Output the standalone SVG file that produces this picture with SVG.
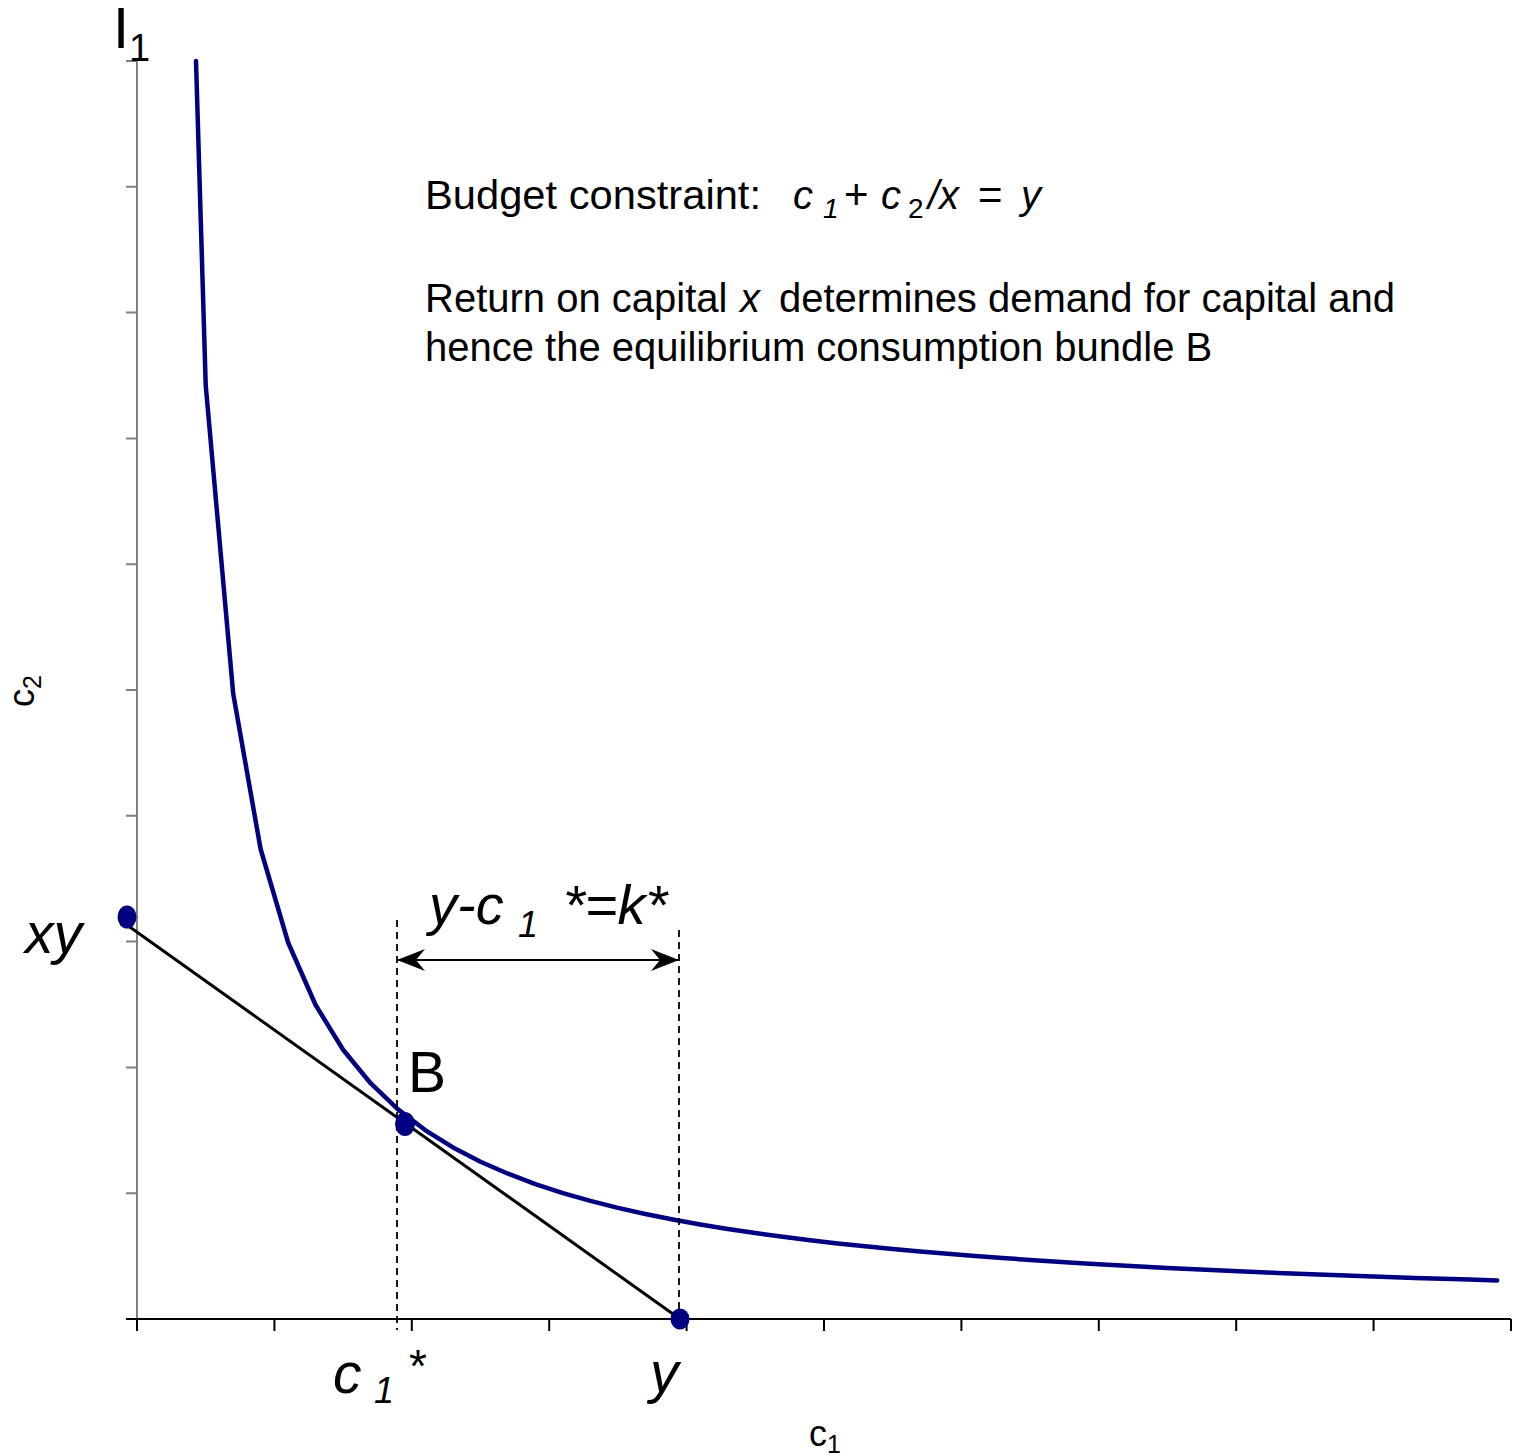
<svg xmlns="http://www.w3.org/2000/svg" width="1527" height="1456" viewBox="0 0 1527 1456">
<style>
text{font-family:"Liberation Sans",Arial,sans-serif;fill:#000}
.it{font-style:italic}
.big{font-size:57px}
.txt{font-size:40px}
.ax{stroke:#000;stroke-width:2;fill:none}
.gax{stroke:#808080;stroke-width:2;fill:none}
.dash{stroke:#000;stroke-width:1.8;stroke-dasharray:7,5;fill:none}
.dot{fill:#000080}
</style>
<defs>
<marker id="ah" viewBox="0 0 28 22" refX="27" refY="11" markerWidth="28" markerHeight="22" markerUnits="userSpaceOnUse" orient="auto-start-reverse">
<path d="M28,11 L0,0 L9,11 L0,22 Z" fill="#000"/>
</marker>
</defs>
<rect width="1527" height="1456" fill="#fff"/>
<g id="axes">
<path class="gax" d="M137,61 V1319"/>
<path class="gax" d="M126,61H137M126,186.8H137M126,312.6H137M126,438.4H137M126,564.2H137M126,690H137M126,815.8H137M126,941.6H137M126,1067.4H137M126,1193.2H137"/>
<path class="ax" d="M126,1319 H1511"/>
<path class="ax" d="M137,1319V1331M274.4,1319V1331M411.8,1319V1331M549.2,1319V1331M686.6,1319V1331M824,1319V1331M961.4,1319V1331M1098.8,1319V1331M1236.2,1319V1331M1373.6,1319V1331M1511,1319V1331"/>
<text x="809" y="1446" style="font-size:36px">c<tspan dy="7" style="font-size:25px">1</tspan></text>
<text transform="translate(34,707) rotate(-90)" style="font-size:36px">c<tspan dy="7" style="font-size:25px">2</tspan></text>
</g>
<g id="connectors">
<path id="indifference-curve" d="M196,61 L205.7,385.1 L233.2,693.7 L260.6,849 L288.1,942.5 L315.6,1005 L343.1,1049.7 L370.6,1083.2 L398,1109.4 L425.5,1130.3 L453,1147.4 L480.5,1161.7 L508,1173.7 L535.4,1184.1 L562.9,1193.1 L590.4,1200.9 L617.9,1207.9 L645.4,1214 L672.8,1219.5 L700.3,1224.5 L727.8,1229 L755.3,1233.1 L782.8,1236.8 L810.2,1240.2 L837.7,1243.4 L865.2,1246.3 L892.7,1249 L920.2,1251.5 L947.6,1253.8 L975.1,1256 L1002.6,1258 L1030.1,1259.9 L1057.6,1261.7 L1085,1263.4 L1112.5,1265 L1140,1266.5 L1167.5,1267.9 L1195,1269.2 L1222.4,1270.5 L1249.9,1271.7 L1277.4,1272.9 L1304.9,1274 L1332.4,1275 L1359.8,1276 L1387.3,1277 L1414.8,1277.9 L1442.3,1278.8 L1469.8,1279.6 L1497.2,1280.4" fill="none" stroke="#000080" stroke-width="4.5" stroke-linejoin="round" stroke-linecap="round"/>
<path id="budget-line" d="M127,925 L680,1319" stroke="#000" stroke-width="3" fill="none"/>
<path class="dash" d="M397,920 V1330"/>
<path class="dash" d="M679,930 V1320"/>
<path d="M398,960 H678" stroke="#000" stroke-width="2" fill="none" marker-start="url(#ah)" marker-end="url(#ah)"/>
</g>
<g id="point-xy">
<ellipse class="dot" cx="127" cy="917" rx="9.5" ry="11.5"/>
<text class="big it" x="25" y="953">xy</text>
</g>
<g id="point-B">
<ellipse class="dot" cx="405" cy="1124" rx="10" ry="12"/>
<text class="big" x="408" y="1092">B</text>
</g>
<g id="point-y">
<ellipse class="dot" cx="680" cy="1319" rx="9.5" ry="10.5"/>
<text class="big it" x="650" y="1392">y</text>
</g>
<g id="label-I1">
<text x="113" y="48" style="font-size:58px">I<tspan x="129" y="61" style="font-size:38px">1</tspan></text>
</g>
<g id="label-c1star">
<text class="big it" x="333" y="1393">c<tspan x="374" y="1403" style="font-size:36px">1</tspan><tspan x="409" y="1382" style="font-style:normal;font-size:46px">*</tspan></text>
</g>
<g id="label-k">
<text class="it" style="font-size:56px" x="429" y="924">y-c<tspan x="518" y="937" style="font-size:36px">1</tspan><tspan x="563" y="924">*=k*</tspan></text>
</g>
<g id="text-block">
<text class="txt" x="425" y="209"><tspan textLength="336" lengthAdjust="spacingAndGlyphs">Budget constraint:</tspan><tspan class="it" x="793">c</tspan><tspan class="it" x="823" y="218" style="font-size:28px">1</tspan><tspan x="844" y="209" style="font-size:42px">+</tspan><tspan class="it" x="881" style="font-size:40px">c</tspan><tspan x="908" y="218" style="font-size:28px">2</tspan><tspan class="it" x="928" y="209">/x</tspan><tspan x="978" style="font-size:42px">=</tspan><tspan class="it" x="1021">y</tspan></text>
<text class="txt" x="425" y="312">Return on capital<tspan class="it" x="740">x</tspan><tspan x="779">determines demand for capital and</tspan></text>
<text class="txt" x="425" y="361">hence the equilibrium consumption bundle B</text>
</g>
</svg>
